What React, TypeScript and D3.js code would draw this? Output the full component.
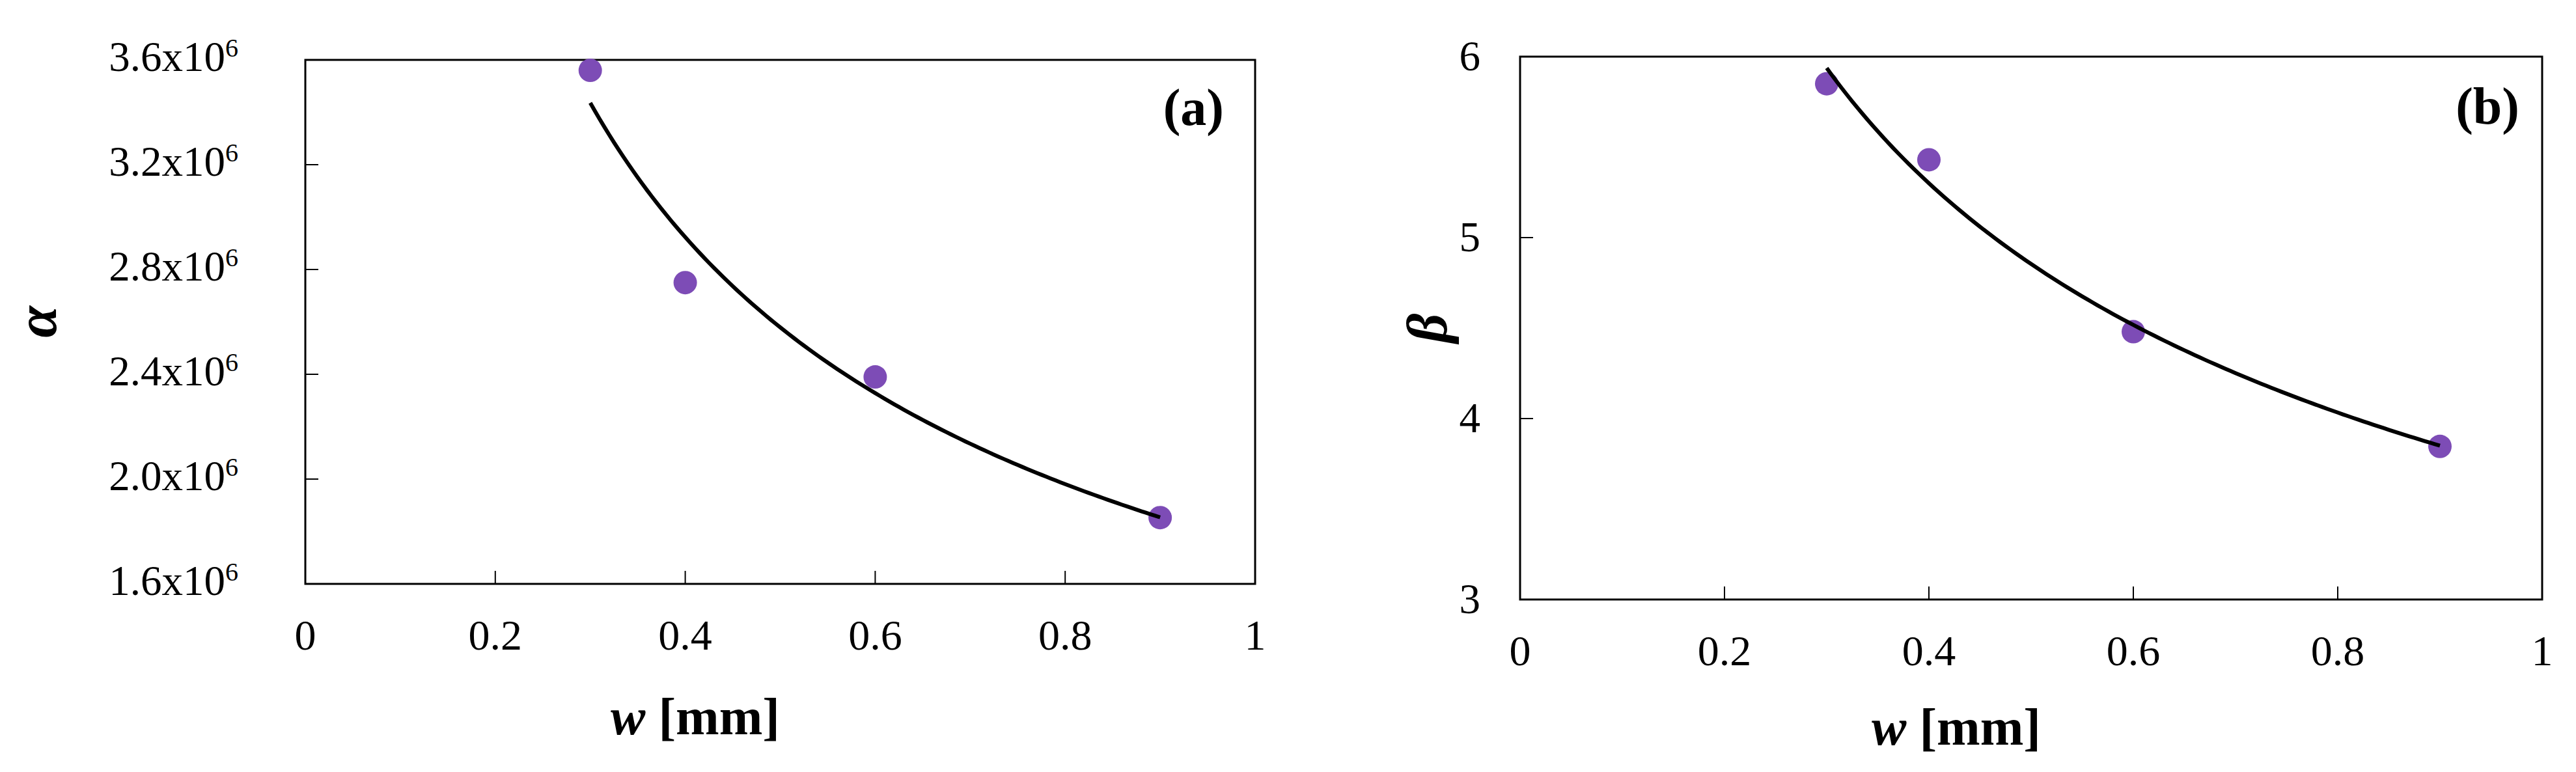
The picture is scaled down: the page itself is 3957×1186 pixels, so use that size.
import React from 'react';
import * as d3 from 'd3';

// ---- data ----
const widths = [0.3, 0.4, 0.6, 0.9];
const alphaValues = [3.56e6, 2.75e6, 2.39e6, 1.853e6];
const betaValues = [5.85, 5.43, 4.48, 3.846];

const xTicks = [0, 0.2, 0.4, 0.6, 0.8, 1];
const xTickLabels = ['0', '0.2', '0.4', '0.6', '0.8', '1'];
const alphaTicks = [1.6e6, 2.0e6, 2.4e6, 2.8e6, 3.2e6, 3.6e6];
const alphaTickMantissas = ['1.6', '2.0', '2.4', '2.8', '3.2', '3.6'];
const betaTicks = [3, 4, 5, 6];
const betaTickLabels = ['3', '4', '5', '6'];

const FONT = "'Liberation Serif', 'Times New Roman', serif";
const MARKER = '#7D4CB6';

// least-squares power-law trendline y = a * x^b (as a spreadsheet "power" trendline)
function powerFit(xs: number[], ys: number[]) {
  const lx = xs.map(Math.log);
  const ly = ys.map(Math.log);
  const mx = d3.mean(lx)!;
  const my = d3.mean(ly)!;
  let sxy = 0, sxx = 0;
  lx.forEach((v, i) => { sxy += (v - mx) * (ly[i] - my); sxx += (v - mx) * (v - mx); });
  const b = sxy / sxx;
  const a = Math.exp(my - b * mx);
  return (x: number) => a * Math.pow(x, b);
}

type PanelProps = {
  left: number; right: number; top: number; bottom: number;
  yDomain: [number, number];
  yTicks: number[];
  yTickText: (i: number) => React.ReactNode;
  values: number[];
  yLabel: string;
  yLabelX: number;
  tag: string;
  tagRight: number; tagBaseline: number;
  tickLabelRight: number;
  yTickOffset: number;
  xTickBaseline: number;
  xLabelCenter: number; xLabelBaseline: number;
};

function Panel(p: PanelProps) {
  const x = d3.scaleLinear().domain([0, 1]).range([p.left, p.right]);
  const y = d3.scaleLinear().domain(p.yDomain).range([p.bottom, p.top]);
  const fit = powerFit(widths, p.values);
  const xs = d3.range(0, 121).map(i => widths[0] + (widths[widths.length - 1] - widths[0]) * i / 120);
  const line = d3.line<number>().x(d => x(d)).y(d => y(fit(d))).curve(d3.curveLinear);
  const tickLen = 20;
  return (
    <g fontFamily={FONT}>
      {/* x ticks */}
      {xTicks.map((t, i) => (
        <g key={'xt' + i}>
          <line x1={x(t)} x2={x(t)} y1={p.bottom} y2={p.bottom - tickLen} stroke="#000" strokeWidth={2} />
          <text x={x(t)} y={p.xTickBaseline} textAnchor="middle" fontSize={66} fill="#000">{xTickLabels[i]}</text>
        </g>
      ))}
      {/* y ticks */}
      {p.yTicks.map((t, i) => (
        <g key={'yt' + i}>
          <line x1={p.left} x2={p.left + tickLen} y1={y(t)} y2={y(t)} stroke="#000" strokeWidth={2} />
          <text x={p.tickLabelRight} y={y(t) + p.yTickOffset} textAnchor="end" fontSize={65} fill="#000">{p.yTickText(i)}</text>
        </g>
      ))}
      {/* frame */}
      <rect x={p.left} y={p.top} width={p.right - p.left} height={p.bottom - p.top} fill="none" stroke="#000" strokeWidth={3} />
      {/* markers */}
      {widths.map((w, i) => (
        <circle key={'m' + i} cx={x(w)} cy={y(p.values[i])} r={18} fill={MARKER} />
      ))}
      {/* trendline */}
      <path d={line(xs) || ''} fill="none" stroke="#000" strokeWidth={6} />
      {/* panel tag */}
      <text x={p.tagRight} y={p.tagBaseline} textAnchor="end" fontSize={80} fontWeight="bold" fill="#000">{p.tag}</text>
      {/* y label */}
      <text transform={`translate(${p.yLabelX},${(p.top + p.bottom) / 2}) rotate(-90)`} textAnchor="middle"
        dominantBaseline="central" fontSize={88} fontWeight="bold" fontStyle="italic" fill="#000">{p.yLabel}</text>
      {/* x label */}
      <text x={p.xLabelCenter} y={p.xLabelBaseline} textAnchor="middle" fontSize={80} fontWeight="bold" fill="#000">
        <tspan fontStyle="italic">w</tspan><tspan> [mm]</tspan>
      </text>
    </g>
  );
}

export default function App() {
  React.useEffect(() => {
    document.body.style.margin = '0';
    document.body.style.overflow = 'hidden';
  }, []);
  return (
    <svg width={3957} height={1186} style={{ position: 'absolute', left: 0, top: 0, background: '#fff' }}>
      <rect x={0} y={0} width={3957} height={1186} fill="#fff" />
      <Panel
        left={469} right={1928} top={92} bottom={897}
        yDomain={[1.6e6, 3.6e6]}
        yTicks={alphaTicks}
        yTickText={(i) => (<>{alphaTickMantissas[i] + 'x10'}<tspan fontSize={40} dy={-22}>6</tspan></>)}
        values={alphaValues}
        yLabel="α" yLabelX={56}
        tag="(a)" tagRight={1880} tagBaseline={192}
        tickLabelRight={366} yTickOffset={17}
        xTickBaseline={998}
        xLabelCenter={1068} xLabelBaseline={1128}
      />
      <Panel
        left={2335} right={3905} top={87} bottom={921}
        yDomain={[3, 6]}
        yTicks={betaTicks}
        yTickText={(i) => betaTickLabels[i]}
        values={betaValues}
        yLabel="β" yLabelX={2192}
        tag="(b)" tagRight={3870} tagBaseline={190}
        tickLabelRight={2274} yTickOffset={21}
        xTickBaseline={1022}
        xLabelCenter={3005} xLabelBaseline={1144}
      />
    </svg>
  );
}
